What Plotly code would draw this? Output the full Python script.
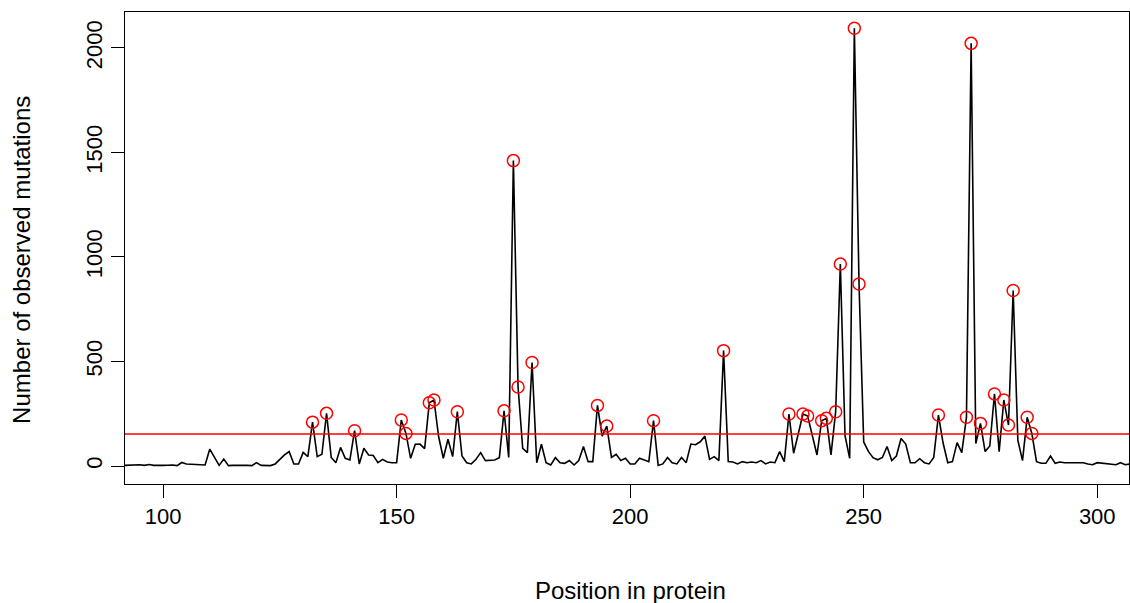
import plotly.graph_objects as go

positions = list(range(91, 309))
counts = [
    2,                                                   # 91
    3, 2, 4, 6, 3, 7, 3, 2, 3,                           # 92-100
    4, 5, 2, 17, 10, 9, 10, 8, 5, 81,                    # 101-110
    40, 3, 33, 2, 3, 4, 3, 3, 2, 16,                     # 111-120
    3, 2, 2, 10, 32, 53, 69, 10, 10, 65,                 # 121-130
    45, 210, 45, 56, 252, 41, 16, 89, 37, 29,            # 131-140
    169, 10, 85, 53, 50, 16, 32, 19, 16, 16,             # 141-150
    220, 156, 37, 104, 105, 83, 303, 316, 140, 37,       # 151-160
    128, 45, 260, 48, 16, 10, 32, 64, 26, 26,            # 161-170
    29, 40, 264, 41, 1461, 378, 85, 64, 495, 16,         # 171-180
    104, 16, 5, 40, 16, 13, 26, 5, 26, 93,               # 181-190
    21, 21, 290, 143, 191, 41, 56, 26, 37, 10,           # 191-200
    10, 37, 29, 21, 217, 3, 10, 41, 16, 10,              # 201-210
    41, 16, 105, 102, 116, 143, 32, 45, 26, 552,         # 211-220
    21, 19, 10, 21, 16, 19, 16, 26, 10, 19,              # 221-230
    16, 69, 21, 249, 61, 150, 249, 239, 140, 53,         # 231-240
    217, 228, 53, 260, 966, 145, 37, 2094, 871, 115,     # 241-250
    70, 40, 30, 41, 93, 26, 48, 132, 105, 16,            # 251-260
    16, 35, 16, 10, 41, 244, 110, 16, 21, 112,           # 261-270
    64, 233, 2022, 108, 204, 69, 96, 345, 69, 316,       # 271-280
    196, 840, 124, 26, 233, 156, 21, 13, 13, 48,         # 281-290
    13, 19, 16, 16, 19, 16, 16, 10, 6, 16,               # 291-300
    13, 10, 10, 6, 16, 6, 10, 8,                         # 301-308
]
threshold = 153
x_ticks = [100, 150, 200, 250, 300]
y_ticks = [0, 500, 1000, 1500, 2000]
x_title = "Position in protein"
y_title = "Number of observed mutations"

hot_x = [p for p, c in zip(positions, counts) if c > threshold]
hot_y = [c for c in counts if c > threshold]

FONT = "Liberation Sans, Arial, sans-serif"
FS_TICK = 22
FS_TITLE = 24

fig = go.Figure()
fig.add_trace(go.Scatter(x=positions, y=counts, mode="lines",
                         line=dict(color="black", width=1.6), hoverinfo="skip"))
fig.add_shape(type="line", xref="paper", x0=0, x1=1, yref="y", y0=threshold, y1=threshold,
              line=dict(color="red", width=1.5))
fig.add_trace(go.Scatter(x=hot_x, y=hot_y, mode="markers",
                         marker=dict(symbol="circle-open", color="red", size=12,
                                     line=dict(width=1.5, color="red"))))

axis_common = dict(showgrid=False, zeroline=False, showline=True, mirror=True,
                   linecolor="black", linewidth=1, ticks="outside", ticklen=13,
                   tickcolor="black", tickwidth=1,
                   tickfont=dict(family=FONT, size=FS_TICK, color="black"))

fig.update_layout(
    width=1130, height=603,
    margin=dict(l=125, r=1, t=12, b=119),
    paper_bgcolor="white", plot_bgcolor="white",
    showlegend=False,
    xaxis=dict(range=[91.85, 306.8], tickvals=x_ticks, **axis_common),
    yaxis=dict(range=[-86, 2172], tickvals=y_ticks, tickangle=-90, **axis_common),
    annotations=[
        dict(text=x_title, xref="paper", yref="paper", x=0.503, y=-0.2246,
             xanchor="center", yanchor="middle", showarrow=False,
             font=dict(family=FONT, size=FS_TITLE, color="black")),
        dict(text=y_title, xref="paper", yref="paper", x=-0.1025, y=0.475,
             xanchor="center", yanchor="middle", showarrow=False, textangle=-90,
             font=dict(family=FONT, size=FS_TITLE, color="black")),
    ],
)

fig.write_html("out.html")
